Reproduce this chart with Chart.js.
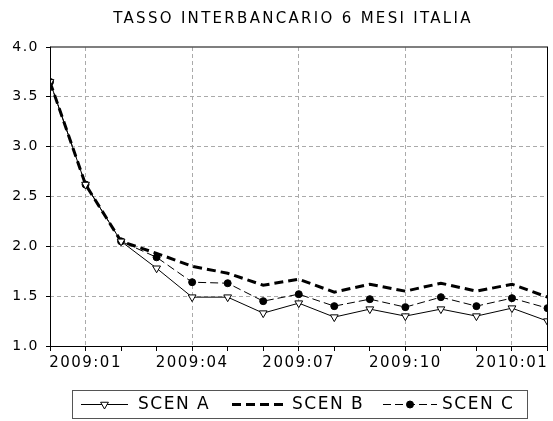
<!DOCTYPE html>
<html>
<head>
<meta charset="utf-8">
<script src="https://cdn.jsdelivr.net/npm/chart.js@4.4.1/dist/chart.umd.min.js"></script>
<style>
html,body{margin:0;padding:0;background:#fff;}
canvas{display:block;}
</style>
</head>
<body>
<canvas id="c" width="553" height="421"></canvas>
<script>
const months = ['2008:12','2009:01','2009:02','2009:03','2009:04','2009:05','2009:06','2009:07','2009:08','2009:09','2009:10','2009:11','2009:12','2010:01','2010:02'];
const shownTicks = ['2009:01','2009:04','2009:07','2009:10','2010:01'];
const scenA = [3.65, 2.62, 2.05, 1.78, 1.49, 1.49, 1.33, 1.43, 1.29, 1.37, 1.30, 1.37, 1.30, 1.38, 1.25];
const scenB = [3.65, 2.62, 2.05, 1.93, 1.80, 1.73, 1.61, 1.67, 1.54, 1.62, 1.55, 1.63, 1.55, 1.62, 1.49];
const scenC = [3.65, 2.62, 2.05, 1.89, 1.64, 1.63, 1.45, 1.52, 1.40, 1.47, 1.39, 1.49, 1.40, 1.48, 1.38];
const seriesNames = ['SCEN A', 'SCEN B', 'SCEN C'];
const titleText = 'TASSO INTERBANCARIO 6 MESI ITALIA';

const FONT = "'DejaVu Sans', sans-serif";
Chart.defaults.font.family = FONT;
Chart.defaults.color = '#000';

const spacingPlugin = {
  id: 'spacing',
  beforeUpdate(chart){ chart.ctx.letterSpacing = '1.5px'; },
  beforeDraw(chart){ chart.ctx.letterSpacing = '1.5px'; }
};

const framePlugin = {
  id: 'frame',
  afterDraw(chart){
    const ctx = chart.ctx, a = chart.chartArea;
    const L = Math.round(a.left) + 0.5, R = Math.round(a.right) - 0.5, B = Math.round(a.bottom) + 0.5, T = Math.round(a.top);
    ctx.save();
    ctx.setLineDash([]);
    ctx.strokeStyle = '#555';
    ctx.lineWidth = 1.5;
    ctx.beginPath(); ctx.moveTo(L, T); ctx.lineTo(R + 0.5, T); ctx.stroke();
    ctx.strokeStyle = '#000';
    ctx.lineWidth = 1;
    ctx.beginPath(); ctx.moveTo(R, T); ctx.lineTo(R, B); ctx.stroke();
    ctx.beginPath(); ctx.moveTo(L, T - 0.5); ctx.lineTo(L, B); ctx.lineTo(R + 0.5, B); ctx.stroke();
    // title
    ctx.letterSpacing = '2.3px';
    ctx.font = "15px " + FONT;
    ctx.fillStyle = '#000';
    ctx.textAlign = 'center';
    ctx.textBaseline = 'middle';
    ctx.fillText(titleText, 293, 19);
    ctx.restore();
  }
};

const legendPlugin = {
  id: 'customLegend',
  afterDraw(chart){
    const ctx = chart.ctx;
    const ds = chart.data.datasets;
    ctx.save();
    ctx.letterSpacing = '1.5px';
    ctx.strokeStyle = '#555';
    ctx.lineWidth = 1;
    ctx.strokeRect(72.5, 390.5, 455, 28);
    const y = 404.5;
    const items = [
      {x1: 81, x2: 128, tx: 138},
      {x1: 232, x2: 283, tx: 292},
      {x1: 383, x2: 437, tx: 442}
    ];
    items.forEach((it, i) => {
      const d = ds[i];
      ctx.save();
      ctx.strokeStyle = d.borderColor;
      ctx.lineWidth = d.borderWidth;
      ctx.setLineDash(d.borderDash || []);
      ctx.beginPath(); ctx.moveTo(it.x1, y); ctx.lineTo(it.x2, y); ctx.stroke();
      ctx.restore();
      if (d.pointRadius > 0) {
        ctx.fillStyle = d.pointBackgroundColor;
        ctx.strokeStyle = d.pointBorderColor;
        ctx.lineWidth = d.pointBorderWidth;
        ctx.setLineDash([]);
        Chart.helpers.drawPoint(ctx, {
          pointStyle: d.pointStyle, rotation: d.pointRotation || 0,
          radius: d.pointRadius, borderWidth: d.pointBorderWidth
        }, (it.x1 + it.x2) / 2, y);
      }
      ctx.fillStyle = '#000';
      ctx.font = "17px " + FONT;
      ctx.textBaseline = 'middle';
      ctx.textAlign = 'left';
      ctx.fillText(seriesNames[i], it.tx, y + 0.5);
    });
    ctx.restore();
  }
};

new Chart(document.getElementById('c'), {
  type: 'line',
  data: {
    labels: months,
    datasets: [
      {label: seriesNames[0], data: scenA, borderColor: '#000', borderWidth: 1, tension: 0, clip: 0,
       pointStyle: 'triangle', pointRotation: 180, pointRadius: 4.5, pointBackgroundColor: '#fff',
       pointBorderColor: '#000', pointBorderWidth: 1},
      {label: seriesNames[1], data: scenB, borderColor: '#000', borderWidth: 3, borderDash: [9, 5], tension: 0, clip: 0,
       pointRadius: 0},
      {label: seriesNames[2], data: scenC, borderColor: '#000', borderWidth: 1, borderDash: [8, 4], tension: 0, clip: 0,
       pointStyle: 'circle', pointRadius: 3.5, pointBackgroundColor: '#000', pointBorderColor: '#000', pointBorderWidth: 1}
    ]
  },
  options: {
    responsive: false,
    animation: false,
    events: [],
    layout: {padding: {left: 0, right: 1, top: 47, bottom: 45}},
    plugins: {
      legend: {display: false},
      tooltip: {enabled: false},
      title: {display: false}
    },
    scales: {
      x: {
        type: 'category',
        offset: false,
        afterFit(s){ s.height = 30; },
        ticks: {
          autoSkip: false, maxRotation: 0, minRotation: 0, padding: 3,
          font: {size: 15, family: FONT},
          callback(v, i){ const l = months[i]; return shownTicks.includes(l) ? l : ''; }
        },
        grid: {
          color: (c) => (c.tick && shownTicks.includes(months[c.index])) ? '#aaa' : 'rgba(0,0,0,0)',
          tickColor: '#000', tickLength: 5, tickWidth: 1, tickBorderDash: [], lineWidth: 1
        },
        border: {display: false, dash: [4, 3]}
      },
      y: {
        min: 1, max: 4,
        afterFit(s){ s.width = 50; },
        ticks: {stepSize: 0.5, padding: 7, font: {size: 14, family: FONT},
          callback(v){ return Number(v).toFixed(1); }},
        grid: {
          color: (c) => (c.tick && c.tick.value > 1 && c.tick.value < 4) ? '#aaa' : 'rgba(0,0,0,0)',
          tickColor: '#000', tickLength: 4, tickWidth: 1, tickBorderDash: [], lineWidth: 1
        },
        border: {display: false, dash: [4, 3]}
      }
    }
  },
  plugins: [spacingPlugin, framePlugin, legendPlugin]
});
</script>
</body>
</html>
